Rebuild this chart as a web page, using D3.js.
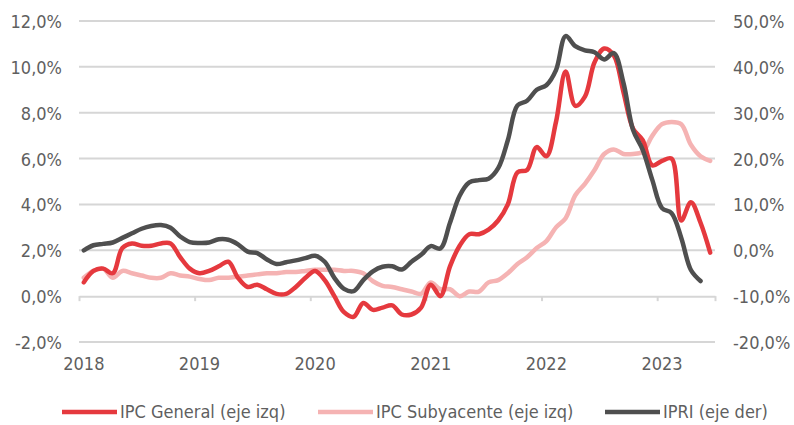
<!DOCTYPE html>
<html>
<head>
<meta charset="utf-8">
<script src="https://cdn.jsdelivr.net/npm/d3@7"></script>
<style>
  html, body { margin: 0; padding: 0; background: #ffffff; }
  svg { display: block; }
  text { font-family: "DejaVu Sans Condensed", "DejaVu Sans", sans-serif; font-stretch: condensed; fill: #5f5f5f; font-size: 18px; }
</style>
</head>
<body>
<svg id="chart" width="794" height="425"></svg>
<script>
// ---- Data (monthly, Jan 2018 - Jun 2023) ----
const years = ["2018", "2019", "2020", "2021", "2022", "2023"];
const monthsCount = 66;

// IPC General (left axis, %)
const ipcGeneral = [
  0.6, 1.1, 1.2, 1.0, 2.1, 2.3, 2.2, 2.2, 2.3, 2.3, 1.7, 1.2,
  1.0, 1.1, 1.3, 1.5, 0.8, 0.4, 0.5, 0.3, 0.1, 0.1, 0.4, 0.8,
  1.1, 0.7, 0.0, -0.7, -0.9, -0.3, -0.6, -0.5, -0.4, -0.8, -0.8, -0.5,
  0.5, 0.0, 1.3, 2.2, 2.7, 2.7, 2.9, 3.3, 4.0, 5.4, 5.5, 6.5,
  6.1, 7.6, 9.8, 8.3, 8.7, 10.2, 10.8, 10.5, 8.9, 7.3, 6.8, 5.7,
  5.9, 6.0, 3.3, 4.1, 3.2, 1.9
];

// IPC Subyacente (left axis, %)
const ipcSubyacente = [
  0.8, 1.1, 1.2, 0.8, 1.1, 1.0, 0.9, 0.8, 0.8, 1.0, 0.9, 0.85,
  0.75, 0.7, 0.8, 0.8, 0.85, 0.9, 0.95, 1.0, 1.0, 1.05, 1.05, 1.1,
  1.15, 1.15, 1.15, 1.1, 1.1, 1.0, 0.65, 0.45, 0.4, 0.3, 0.2, 0.1,
  0.6, 0.3, 0.3, 0.0, 0.2, 0.2, 0.6, 0.7, 1.0, 1.4, 1.7, 2.1,
  2.4, 3.0, 3.4, 4.4, 4.9, 5.5, 6.2, 6.4, 6.2, 6.2, 6.3, 7.0,
  7.5, 7.6, 7.5, 6.6, 6.1, 5.9
];

// IPRI (right axis, %) Jan 2018 - May 2023
const ipri = [
  0.0, 1.1, 1.4, 1.7, 2.7, 3.7, 4.7, 5.3, 5.5, 4.9, 3.0, 1.8,
  1.6, 1.7, 2.4, 2.3, 1.3, -0.3, -0.6, -2.0, -3.0, -2.6, -2.2, -1.7,
  -1.2, -2.5, -6.0, -8.4, -8.9, -6.5, -4.6, -3.6, -3.5, -4.2, -2.5, -1.0,
  0.9, 0.4, 6.0, 11.9, 14.8, 15.3, 15.6, 17.9, 24.0, 31.6, 32.6, 35.0,
  36.0, 39.3, 46.7, 44.5, 43.6, 43.2, 41.6, 43.0, 36.5, 26.2, 21.9, 15.3,
  9.2, 8.1, 2.7, -4.3, -6.7
];

const leftTicks = [-2, 0, 2, 4, 6, 8, 10, 12];
const rightTicks = [-20, -10, 0, 10, 20, 30, 40, 50];

const seriesInfo = [
  { name: "IPC General (eje izq)", color: "#e5393e" },
  { name: "IPC Subyacente (eje izq)", color: "#f5b3b3" },
  { name: "IPRI (eje der)", color: "#4f4f4f" }
];

// ---- Drawing ----
const svg = d3.select("#chart");
const plot = { left: 79, right: 715, top: 21, bottom: 342 };

const loc = d3.formatLocale({ decimal: ",", thousands: ".", grouping: [3], currency: ["", "€"], minus: "-" });
const pct = v => loc.format(".1f")(v) + "%";

const idx = d3.range(monthsCount);
const x = d3.scaleBand().domain(idx).range([plot.left, plot.right]).paddingInner(0).paddingOuter(0);
const xc = i => x(i) + x.bandwidth() / 2;
const xb = d3.scaleLinear().domain([0, monthsCount]).range([plot.left, plot.right]);
const yL = d3.scaleLinear().domain([-2, 12]).range([plot.bottom, plot.top]);
const yR = d3.scaleLinear().domain([-20, 50]).range([plot.bottom, plot.top]);

// gridlines
svg.append("g")
  .selectAll("line")
  .data(leftTicks.filter(d => d !== 0))
  .join("line")
  .attr("x1", plot.left).attr("x2", plot.right)
  .attr("y1", d => yL(d)).attr("y2", d => yL(d))
  .attr("stroke", "#d6d6d6").attr("stroke-width", 2);

// left axis labels
const gL = svg.append("g").attr("transform", `translate(${plot.left - 17},0)`)
  .call(d3.axisLeft(yL).tickValues(leftTicks).tickFormat(pct).tickSize(0).tickPadding(0));
gL.select(".domain").remove();
gL.selectAll("text").attr("font-size", null).attr("font-family", null).attr("fill", null).attr("dy", "0.36em");

// right axis labels
const gR = svg.append("g").attr("transform", `translate(${plot.right + 18},0)`)
  .call(d3.axisRight(yR).tickValues(rightTicks).tickFormat(pct).tickSize(0).tickPadding(0));
gR.select(".domain").remove();
gR.selectAll("text").attr("font-size", null).attr("font-family", null).attr("fill", null).attr("dy", "0.36em");

// category axis at 0
const gX = svg.append("g").attr("transform", `translate(0,${yL(0)})`)
  .call(d3.axisBottom(xb).tickValues([0, 12, 24, 36, 48, 60, 66]).tickFormat("").tickSizeInner(5).tickSizeOuter(0));
gX.select(".domain").attr("stroke", "#d6d6d6").attr("stroke-width", 2);
gX.selectAll(".tick line").attr("stroke", "#d6d6d6").attr("stroke-width", 2);

// year labels
const gY = svg.append("g").attr("transform", `translate(0,${plot.bottom + 15})`)
  .call(d3.axisBottom(x).tickValues(years.map((y, k) => k * 12)).tickFormat((d) => years[d / 12]).tickSize(0).tickPadding(0));
gY.select(".domain").remove();
gY.selectAll("text").attr("font-size", null).attr("font-family", null).attr("fill", null);

// lines
const lineL = d3.line().x((d, i) => xc(i)).y(d => yL(d)).curve(d3.curveCatmullRom.alpha(0.5));
const lineR = d3.line().x((d, i) => xc(i)).y(d => yR(d)).curve(d3.curveCatmullRom.alpha(0.5));

svg.append("path").datum(ipcSubyacente).attr("d", lineL)
  .attr("fill", "none").attr("stroke", seriesInfo[1].color).attr("stroke-width", 4.5).attr("stroke-linejoin", "round").attr("stroke-linecap", "round");
svg.append("path").datum(ipcGeneral).attr("d", lineL)
  .attr("fill", "none").attr("stroke", seriesInfo[0].color).attr("stroke-width", 4.5).attr("stroke-linejoin", "round").attr("stroke-linecap", "round");
svg.append("path").datum(ipri).attr("d", lineR)
  .attr("fill", "none").attr("stroke", seriesInfo[2].color).attr("stroke-width", 4.5).attr("stroke-linejoin", "round").attr("stroke-linecap", "round");

// legend
const legendX = [62, 318, 605];
const lg = svg.append("g");
seriesInfo.forEach((s, k) => {
  const g = lg.append("g").attr("transform", `translate(${legendX[k]},412)`);
  g.append("line").attr("x1", 0).attr("x2", 55).attr("y1", 0).attr("y2", 0)
    .attr("stroke", s.color).attr("stroke-width", 4.5);
  g.append("text").attr("x", 58).attr("y", 0).attr("dy", "0.36em").text(s.name);
});
</script>
</body>
</html>
